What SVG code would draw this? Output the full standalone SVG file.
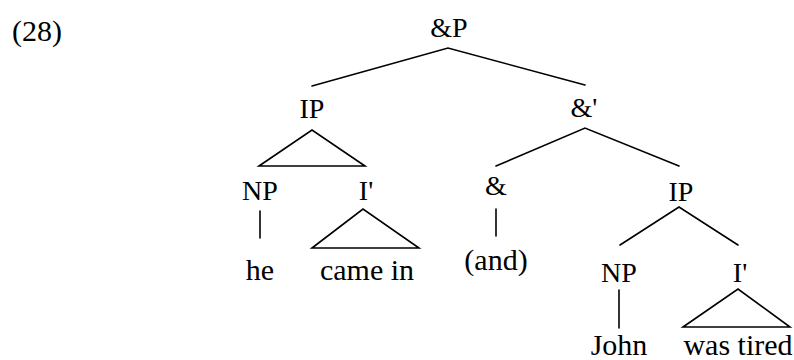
<svg xmlns="http://www.w3.org/2000/svg" width="794" height="360" viewBox="0 0 794 360">
<style>
text{font-family:"Liberation Serif","Times New Roman",serif;fill:#000;text-anchor:middle}
.lab{font-size:28px}
.word{font-size:30px}
.num{font-size:30px;text-anchor:start}
.edge{stroke:#000;stroke-width:1.6;fill:none;stroke-linecap:round}
</style>
<rect width="794" height="360" fill="#fff"/>
<text class="num" x="12" y="41">(28)</text>
<g id="connectors">
<path class="edge" d="M312,86 L448,48 L585,85"/>
<path class="edge" d="M259,166 L312,130 L365,166 Z"/>
<path class="edge" d="M496,166 L585,128 L679,166"/>
<path class="edge" d="M260,211 L260,238"/>
<path class="edge" d="M312,248 L363,209 L419,248 Z"/>
<path class="edge" d="M496,209 L496,236"/>
<path class="edge" d="M620,245 L679,207 L738,245"/>
<path class="edge" d="M619,290 L619,328"/>
<path class="edge" d="M683,327 L738,289 L790,327 Z"/>
</g>
<g id="andP"><text class="lab" x="449" y="37">&amp;P</text></g>
<g id="IP1"><text class="lab" x="312" y="118">IP</text></g>
<g id="andBar"><text class="lab" x="584" y="117">&amp;'</text></g>
<g id="NP1"><text class="lab" x="260" y="200">NP</text></g>
<g id="Ibar1"><text class="lab" x="366" y="200">I'</text></g>
<g id="and"><text class="lab" x="496" y="195">&amp;</text></g>
<g id="IP2"><text class="lab" x="681" y="201">IP</text></g>
<g id="he"><text class="word" x="260" y="280">he</text></g>
<g id="camein"><text class="word" x="367" y="280">came in</text></g>
<g id="andWord"><text class="word" x="496" y="270">(and)</text></g>
<g id="NP2"><text class="lab" x="619" y="282">NP</text></g>
<g id="Ibar2"><text class="lab" x="740" y="282">I'</text></g>
<g id="John"><text class="word" x="619" y="355">John</text></g>
<g id="wastired"><text class="word" x="738" y="355">was tired</text></g>
</svg>
